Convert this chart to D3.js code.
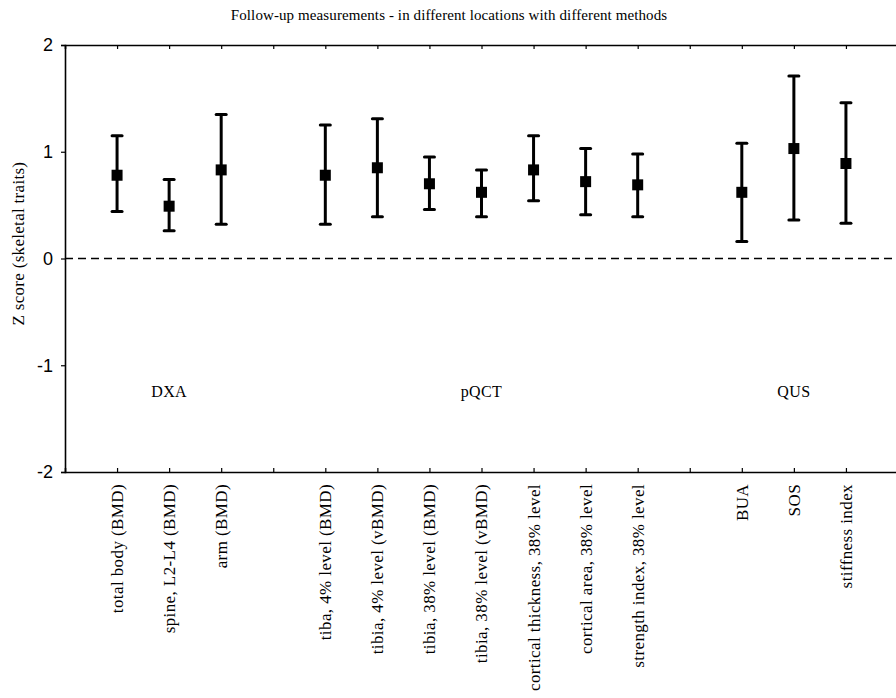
<!DOCTYPE html>
<html>
<head>
<meta charset="utf-8">
<script src="https://cdn.jsdelivr.net/npm/d3@7"></script>
<style>
  body { margin: 0; background: #fff; }
  text { fill: #000; }
</style>
</head>
<body>
<svg id="chart"></svg>
<script>
const width = 896, height = 698;
const margin = { top: 45, right: -2, bottom: 226, left: 65 };

// categories along the x axis ("" marks an empty slot between groups)
const labels = ["total body (BMD)", "spine, L2-L4 (BMD)", "arm (BMD)", "",
    "tiba, 4% level (BMD)", "tibia, 4% level (vBMD)", "tibia, 38% level (BMD)",
    "tibia, 38% level (vBMD)", "cortical thickness, 38% level", "cortical area, 38% level",
    "strength index, 38% level", "", "BUA", "SOS", "stiffness index"];
const means = [0.78, 0.49, 0.83, null, 0.78, 0.85, 0.70, 0.62, 0.83, 0.72, 0.69, null, 0.62, 1.03, 0.89];
const lows  = [0.44, 0.26, 0.32, null, 0.32, 0.39, 0.46, 0.39, 0.54, 0.41, 0.39, null, 0.16, 0.36, 0.33];
const highs = [1.15, 0.74, 1.35, null, 1.25, 1.31, 0.95, 0.83, 1.15, 1.03, 0.98, null, 1.08, 1.71, 1.46];

const groups = ["DXA", "pQCT", "QUS"];
const groupPos = [1, 7, 13];   // category slot under which each group name sits
const groupY = -1.3;

const yTicks = [-2, -1, 0, 1, 2];

const serif = "'Liberation Serif', 'DejaVu Serif', serif";
const sans = "'Liberation Sans', Arial, sans-serif";

const svg = d3.select("#chart").attr("width", width).attr("height", height);

const x = d3.scalePoint()
    .domain(labels.map((d, i) => i))
    .range([margin.left, width - margin.right])
    .padding(1);

const y = d3.scaleLinear()
    .domain([-2, 2])
    .range([height - margin.bottom, margin.top]);

const x0 = margin.left, x1 = width - margin.right;

// title
svg.append("text")
    .attr("x", 449).attr("y", 20)
    .attr("text-anchor", "middle")
    .style("font-family", serif).style("font-size", "15px")
    .style("letter-spacing", "0.1px")
    .text("Follow-up measurements - in different locations with different methods");

// y axis title
svg.append("text")
    .attr("transform", `translate(24, ${y(0.14)}) rotate(-90)`)
    .attr("text-anchor", "middle")
    .style("font-family", serif).style("font-size", "17px")
    .style("letter-spacing", "0.3px")
    .text("Z score (skeletal traits)");

// left axis
const leftAxis = svg.append("g")
    .attr("transform", `translate(${x0},0)`)
    .call(d3.axisLeft(y).tickValues(yTicks).tickFormat(d => String(d)).tickSize(4).tickPadding(8));
leftAxis.select(".domain").attr("stroke-width", 1.6);
leftAxis.selectAll(".tick line").attr("stroke-width", 1.2);
leftAxis.selectAll("text").style("font-family", sans).style("font-size", "18px");

// right axis (ticks inward)
const rightAxis = svg.append("g")
    .attr("transform", `translate(${x1},0)`)
    .call(d3.axisLeft(y).tickValues(yTicks).tickFormat("").tickSize(-4));
rightAxis.select(".domain").attr("stroke-width", 1.6);

// bottom axis (ticks inward)
const bottomAxis = svg.append("g")
    .attr("transform", `translate(0,${y(-2)})`)
    .call(d3.axisBottom(x).tickSize(-4).tickFormat(""));
bottomAxis.select(".domain").attr("stroke-width", 1.6);
bottomAxis.selectAll(".tick line").attr("stroke-width", 1.2);

// top axis (ticks inward)
const topAxis = svg.append("g")
    .attr("transform", `translate(0,${y(2)})`)
    .call(d3.axisTop(x).tickSize(-4).tickFormat(""));
topAxis.select(".domain").attr("stroke-width", 1.6);
topAxis.selectAll(".tick line").attr("stroke-width", 1.2);

// category labels
svg.append("g").selectAll("text")
    .data(labels)
    .join("text")
    .attr("transform", (d, i) => `translate(${x(i)}, ${y(-2) + 12}) rotate(-90)`)
    .attr("text-anchor", "end")
    .attr("dy", "0.35em")
    .style("font-family", serif).style("font-size", "17px")
    .style("letter-spacing", "0.4px")
    .text(d => d);

// zero reference line
svg.append("line")
    .attr("x1", x0).attr("x2", x1)
    .attr("y1", y(0)).attr("y2", y(0))
    .attr("stroke", "#000").attr("stroke-width", 1.5)
    .attr("stroke-dasharray", "8,5");

// group names
svg.append("g").selectAll("text")
    .data(groups)
    .join("text")
    .attr("x", (d, i) => x(groupPos[i]))
    .attr("y", y(groupY))
    .attr("text-anchor", "middle")
    .style("font-family", serif).style("font-size", "16px")
    .style("letter-spacing", "0.4px")
    .text(d => d);

// error bars + mean markers
const pts = labels.map((d, i) => ({ i, m: means[i], lo: lows[i], hi: highs[i] }))
    .filter(d => d.m !== null);

const bars = svg.append("g").selectAll("g")
    .data(pts)
    .join("g");

bars.append("line")
    .attr("x1", d => x(d.i)).attr("x2", d => x(d.i))
    .attr("y1", d => y(d.lo)).attr("y2", d => y(d.hi))
    .attr("stroke", "#000").attr("stroke-width", 3);

["lo", "hi"].forEach(k => {
    bars.append("line")
        .attr("x1", d => x(d.i) - 5).attr("x2", d => x(d.i) + 5)
        .attr("y1", d => y(d[k])).attr("y2", d => y(d[k]))
        .attr("stroke", "#000").attr("stroke-width", 3)
        .attr("stroke-linecap", "round");
});

bars.append("rect")
    .attr("x", d => x(d.i) - 5.5).attr("y", d => y(d.m) - 5.5)
    .attr("width", 11).attr("height", 11)
    .attr("fill", "#000");
</script>
</body>
</html>
